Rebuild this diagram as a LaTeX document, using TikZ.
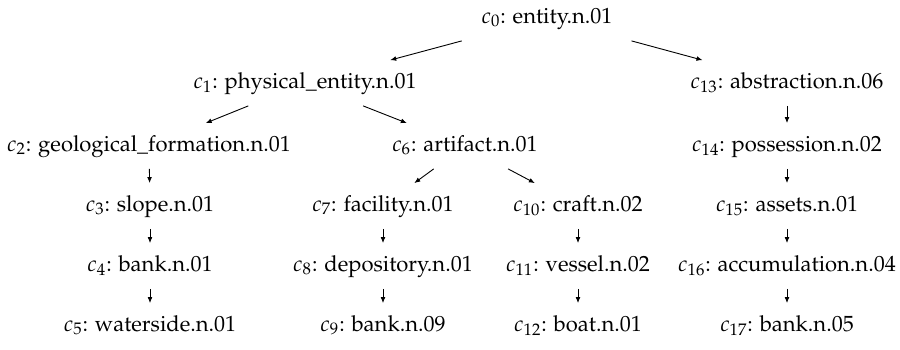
\documentclass[tikz,border=0pt]{standalone}
\usepackage[T1]{fontenc}
\usepackage{mathpazo}
\usetikzlibrary{arrows.meta}
\begin{document}
\begin{tikzpicture}[x=0.5pt,y=-0.5pt,
  lbl/.style={inner sep=0pt, minimum height=22.5pt, minimum width=95pt,
    text height=7pt, text depth=2pt, font=\fontsize{11}{13}\selectfont},
  arr/.style={-{Latex[length=3pt,width=2.4pt]}, line width=0.45pt}]
\useasboundingbox (0,0) rectangle (900,349);
\node[lbl] (c0)  at (547,18)  {$c_{0}$: entity.n.01};
\node[lbl] (c1)  at (305,83)  {$c_{1}$: physical\_entity.n.01};
\node[lbl] (c13) at (787,83)  {$c_{13}$: abstraction.n.06};
\node[lbl] (c2)  at (149,146) {$c_{2}$: geological\_formation.n.01};
\node[lbl] (c6)  at (465,146) {$c_{6}$: artifact.n.01};
\node[lbl] (c14) at (787,146) {$c_{14}$: possession.n.02};
\node[lbl] (c3)  at (150,206) {$c_{3}$: slope.n.01};
\node[lbl] (c7)  at (383,206) {$c_{7}$: facility.n.01};
\node[lbl] (c10) at (578,206) {$c_{10}$: craft.n.02};
\node[lbl] (c15) at (787,206) {$c_{15}$: assets.n.01};
\node[lbl] (c4)  at (150,266) {$c_{4}$: bank.n.01};
\node[lbl] (c8)  at (383,266) {$c_{8}$: depository.n.01};
\node[lbl] (c11) at (578,266) {$c_{11}$: vessel.n.02};
\node[lbl] (c16) at (787,266) {$c_{16}$: accumulation.n.04};
\node[lbl] (c5)  at (150,326) {$c_{5}$: waterside.n.01};
\node[lbl] (c9)  at (383,326) {$c_{9}$: bank.n.09};
\node[lbl] (c12) at (578,326) {$c_{12}$: boat.n.01};
\node[lbl] (c17) at (787,326) {$c_{17}$: bank.n.05};
\draw[arr] (c0) -- (c1);
\draw[arr] (c0) -- (c13);
\draw[arr] (c1) -- (c2);
\draw[arr] (c1) -- (c6);
\draw[arr] (c6) -- (c7);
\draw[arr] (c6) -- (c10);
\draw[arr] (c2) -- (c3);
\draw[arr] (c3) -- (c4);
\draw[arr] (c4) -- (c5);
\draw[arr] (c7) -- (c8);
\draw[arr] (c8) -- (c9);
\draw[arr] (c10) -- (c11);
\draw[arr] (c11) -- (c12);
\draw[arr] (c13) -- (c14);
\draw[arr] (c14) -- (c15);
\draw[arr] (c15) -- (c16);
\draw[arr] (c16) -- (c17);
\end{tikzpicture}
\end{document}
